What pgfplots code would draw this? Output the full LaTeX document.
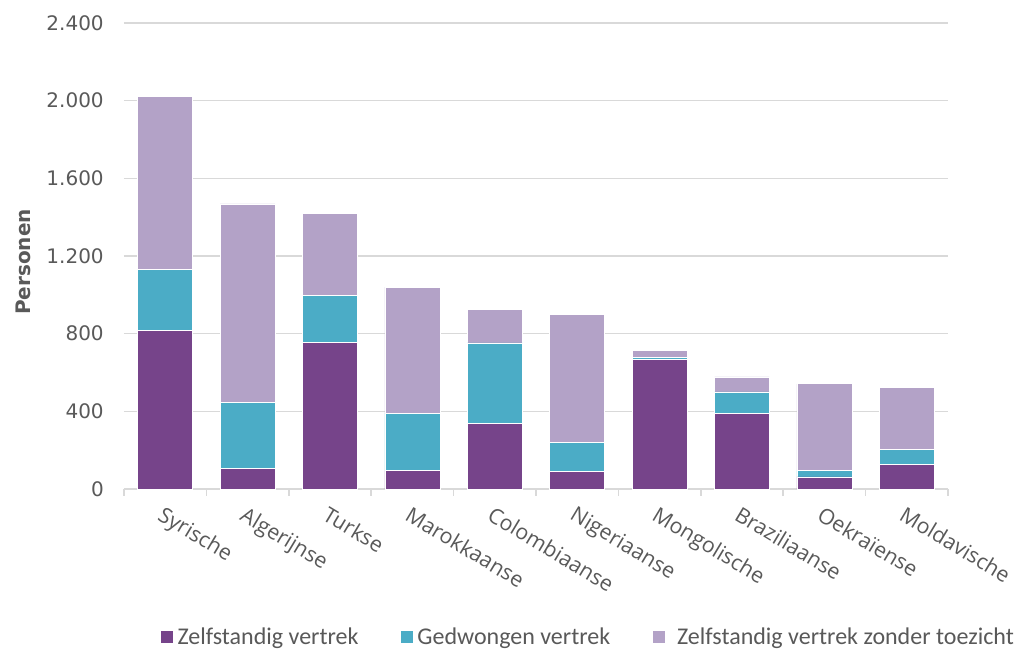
\documentclass[border=0pt]{standalone}
\usepackage{fontspec}
\setmainfont{Open Sans}
\newfontfamily\dejavu{DejaVu Sans}
\newfontfamily\carlito{Carlito}
\usepackage{pgfplots}
\pgfplotsset{compat=1.18}
\definecolor{c1}{HTML}{76448A}
\definecolor{c2}{HTML}{4BACC6}
\definecolor{c3}{HTML}{B3A2C7}
\definecolor{gridc}{HTML}{D9D9D9}
\definecolor{txt}{HTML}{595959}
\begin{document}
\begin{tikzpicture}
\begin{axis}[
  scale only axis, width=618pt, height=349.5pt,
  ybar stacked, bar width=0.667,
  xmin=-0.5, xmax=9.5, ymin=0, ymax=2400,
  ytick={0,400,...,2400},
  yticklabels={0,400,800,1.200,1.600,2.000,2.400},
  ymajorgrids, grid style={draw=gridc, line width=1.1pt},
  axis x line*=bottom, axis y line*=left,
  y axis line style={draw=none},
  x axis line style={draw=gridc, line width=1.1pt, -},
  major y tick style={draw=none},
  major tick length=0pt,
  xtick={0,...,9},
  xticklabels={Syrische,Algerijnse,Turkse,Marokkaanse,Colombiaanse,Nigeriaanse,Mongolische,Braziliaanse,Oekraïense,Moldavische},
  major x tick style={draw=none},
  minor xtick={-0.5,0.5,...,9.5},
  minor x tick style={draw=gridc, line width=1.1pt},
  tick align=outside, minor tick length=5pt,
  xticklabel style={font=\fontsize{16}{19}\selectfont, text=txt, rotate=-31, anchor=north west, inner sep=0pt, yshift=-10.5pt, xshift=6pt},
  yticklabel style={font=\dejavu\fontsize{15}{18}\selectfont, text=txt, anchor=east, inner sep=0pt, xshift=-15pt},
  ylabel={Personen},
  ylabel style={font=\dejavu\bfseries\fontsize{15}{18}\selectfont, text=txt, at={(axis description cs:-0.1226,0.487)}, anchor=center, rotate=0},
  legend style={at={(axis description cs:0.0437,-0.3176)}, anchor=west, draw=none, legend columns=3,
    inner sep=0pt, outer sep=0pt,
    font=\carlito\fontsize{18}{21}\selectfont, text=txt,
    nodes={inner sep=0pt},
    /tikz/every odd column/.append style={column sep=3pt},
    /tikz/every even column/.append style={column sep=31pt}},
  legend image code/.code={\fill[#1] (0pt,-4.875pt) rectangle (9.75pt,4.875pt);},
  every axis plot/.append style={draw=white, line width=0.4pt},
]
\addplot[fill=c1] coordinates {(0,815) (1,107) (2,757) (3,94) (4,336) (5,89) (6,666) (7,388) (8,62) (9,125)};
\addplot[fill=c2] coordinates {(0,318) (1,339) (2,242) (3,297) (4,416) (5,150) (6,10) (7,112) (8,32) (9,78)};
\addplot[fill=c3] coordinates {(0,891) (1,1022) (2,422) (3,649) (4,175) (5,661) (6,38) (7,78) (8,448) (9,319)};
\legend{Zelfstandig vertrek, Gedwongen vertrek, {\hspace{6pt}Zelfstandig vertrek zonder toezicht}}
\coordinate (bl) at (rel axis cs:0,0);
\coordinate (tr) at (rel axis cs:1,1);
\end{axis}
\pgfresetboundingbox
\path[use as bounding box] ([shift={(-93pt,-120pt)}]bl) rectangle ([shift={(54pt,17.25pt)}]tr);
\end{tikzpicture}
\end{document}
